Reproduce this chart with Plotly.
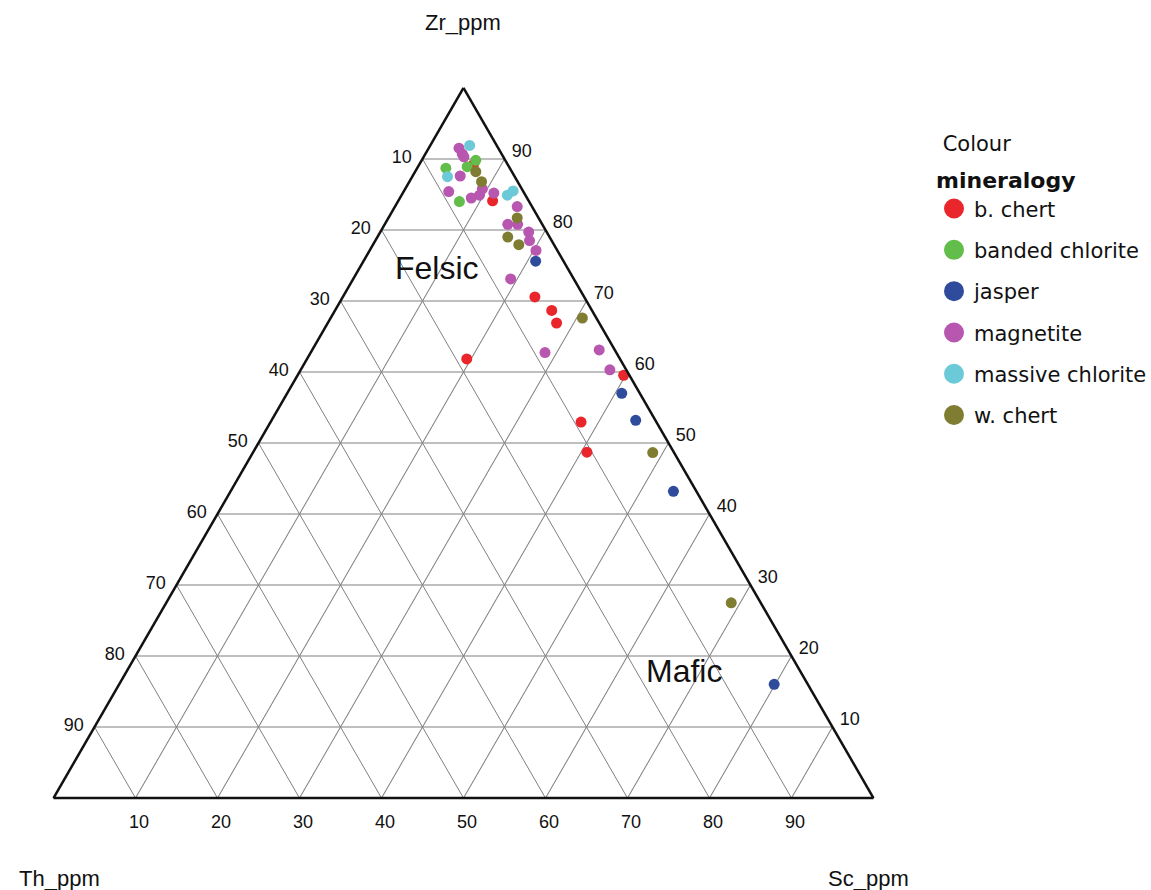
import math
import plotly.graph_objects as go

# Grid ticks shared by the three ternary axes
tick_vals = [10, 20, 30, 40, 50, 60, 70, 80, 90]
# edge labels read the complementary component along each edge
tick_text = [str(100 - v) for v in tick_vals]

# Sample compositions (Zr, Th, Sc in %) grouped by mineralogy
bchert_zr = [89.2, 84.1, 70.5, 68.6, 66.9, 61.9, 59.6, 53.0, 48.7]
bchert_th = [4.2, 4.4, 6.0, 4.9, 5.2, 18.7, 0.7, 9.2, 10.6]
bchert_sc = [6.6, 11.5, 23.4, 26.4, 27.9, 19.5, 39.8, 37.9, 40.7]

bandchl_zr = [89.8, 89.0, 88.7, 84.0]
bandchl_th = [3.6, 5.1, 7.8, 8.5]
bandchl_sc = [6.6, 6.0, 3.5, 7.5]

jasper_zr = [75.6, 57.0, 53.2, 43.2, 16.0]
jasper_th = [3.4, 2.2, 2.4, 2.8, 4.1]
jasper_sc = [21.0, 40.8, 44.4, 54.0, 79.8]

magnetite_zr = [91.6, 90.7, 90.3, 87.6, 85.4, 84.5, 84.9, 85.8, 85.2, 83.3,
                80.8, 80.8, 79.7, 78.5, 77.2, 73.1, 62.8, 63.1, 60.3]
magnetite_th = [4.8, 4.8, 4.8, 6.6, 9.1, 6.8, 5.6, 4.8, 3.7, 1.8,
                4.2, 3.0, 2.2, 2.7, 2.6, 7.7, 8.7, 1.9, 2.0]
magnetite_sc = [3.7, 4.5, 4.9, 5.8, 5.5, 8.7, 9.5, 9.4, 11.1, 14.9,
                15.0, 16.2, 18.1, 18.8, 20.3, 19.2, 28.6, 35.0, 37.7]

masschl_zr = [91.9, 87.5, 84.9, 85.5]
masschl_th = [3.3, 8.2, 2.2, 1.2]
masschl_sc = [4.8, 4.3, 12.9, 13.3]

wchert_zr = [88.2, 86.8, 81.7, 79.0, 78.0, 67.6, 48.7, 27.5]
wchert_th = [4.4, 4.4, 2.6, 5.1, 4.3, 1.7, 2.6, 3.6]
wchert_sc = [7.4, 8.8, 15.7, 15.9, 17.8, 30.7, 48.8, 68.9]

groups = [
    ("b. chert", bchert_zr, bchert_th, bchert_sc, "#e8262b"),
    ("banded chlorite", bandchl_zr, bandchl_th, bandchl_sc, "#62bd4a"),
    ("jasper", jasper_zr, jasper_th, jasper_sc, "#2f4c9c"),
    ("magnetite", magnetite_zr, magnetite_th, magnetite_sc, "#b757b0"),
    ("massive chlorite", masschl_zr, masschl_th, masschl_sc, "#6ccad8"),
    ("w. chert", wchert_zr, wchert_th, wchert_sc, "#7f7d32"),
]

# Field labels placed at ternary compositions (Zr, Th, Sc)
field_labels = [("Felsic", 74.7, 15.9, 9.4), ("Mafic", 17.9, 14.2, 67.9)]

# Vertex names and their label spots in page pixels
vertex_labels = [("Zr_ppm", 463, 22), ("Th_ppm", 60, 878), ("Sc_ppm", 868, 878)]

FIG_W, FIG_H = 1151, 890
TRI_W = 820
TRI_H = TRI_W * math.sqrt(3) / 2
CX, CY = 463.5, 443.0
X0 = CX - TRI_W / 2
Y_BOTTOM = CY + TRI_H / 2

FONT_ARIAL = "Liberation Sans, Arial"
FONT_LEGEND = "DejaVu Sans, Verdana"


def to_paper(zr, th, sc):
    s = zr + th + sc
    x = X0 + TRI_W * (sc + zr / 2) / s
    y = Y_BOTTOM - TRI_H * zr / s
    return x / FIG_W, 1 - y / FIG_H


fig = go.Figure()

for name, zr, th, sc, col in groups:
    fig.add_trace(go.Scatterternary(
        a=zr, b=th, c=sc, mode="markers", name=name,
        legendgroup=name, showlegend=False,
        marker=dict(size=11, color=col, line=dict(width=0)),
    ))

# legend entries with large symbols
for name, zr, th, sc, col in groups:
    fig.add_trace(go.Scatterternary(
        a=[None], b=[None], c=[None], mode="markers", name=name,
        legendgroup=name, showlegend=True,
        marker=dict(size=16, color=col, line=dict(width=4, color=col)),
    ))

axis_common = dict(
    min=0, tickmode="array", tickvals=tick_vals, ticktext=tick_text,
    ticks="outside", ticklen=7, tickcolor="rgba(0,0,0,0)",
    tickfont=dict(family=FONT_ARIAL, size=18, color="#111"),
    showgrid=True, gridcolor="#808080", gridwidth=1,
    showline=True, linecolor="#111", linewidth=2.5,
    title=dict(text=""),
)

fig.update_layout(
    width=FIG_W, height=FIG_H,
    margin=dict(l=0, r=0, t=0, b=0, autoexpand=False),
    paper_bgcolor="white",
    ternary=dict(
        sum=100,
        bgcolor="white",
        domain=dict(x=[X0 / FIG_W, (X0 + TRI_W) / FIG_W],
                    y=[1 - Y_BOTTOM / FIG_H, 1 - (Y_BOTTOM - TRI_H) / FIG_H]),
        aaxis=axis_common,
        baxis=axis_common,
        caxis=axis_common,
    ),
    legend=dict(
        x=934 / FIG_W, y=1 - 113 / FIG_H, xanchor="left", yanchor="top",
        bgcolor="rgba(0,0,0,0)", borderwidth=0,
        font=dict(family=FONT_LEGEND, size=21, color="#111"),
        title=dict(
            text="<span style='font-size:21px'>\u00a0Colour</span><br>"
                 "<span style='font-size:22px'><b>mineralogy</b></span>",
            font=dict(family=FONT_LEGEND, size=29, color="#111"),
        ),
        traceorder="grouped", tracegroupgap=11,
        itemclick=False, itemdoubleclick=False,
    ),
)

for text, zr, th, sc in field_labels:
    px, py = to_paper(zr, th, sc)
    fig.add_annotation(
        x=px, y=py, xref="paper", yref="paper", text=text, showarrow=False,
        xanchor="center", yanchor="middle",
        font=dict(family=FONT_ARIAL, size=32, color="#111"),
    )

for text, px, py in vertex_labels:
    fig.add_annotation(
        x=px / FIG_W, y=1 - py / FIG_H, xref="paper", yref="paper",
        text=text, showarrow=False, xanchor="center", yanchor="middle",
        font=dict(family=FONT_ARIAL, size=22, color="#111"),
    )

fig.write_html("out.html")
